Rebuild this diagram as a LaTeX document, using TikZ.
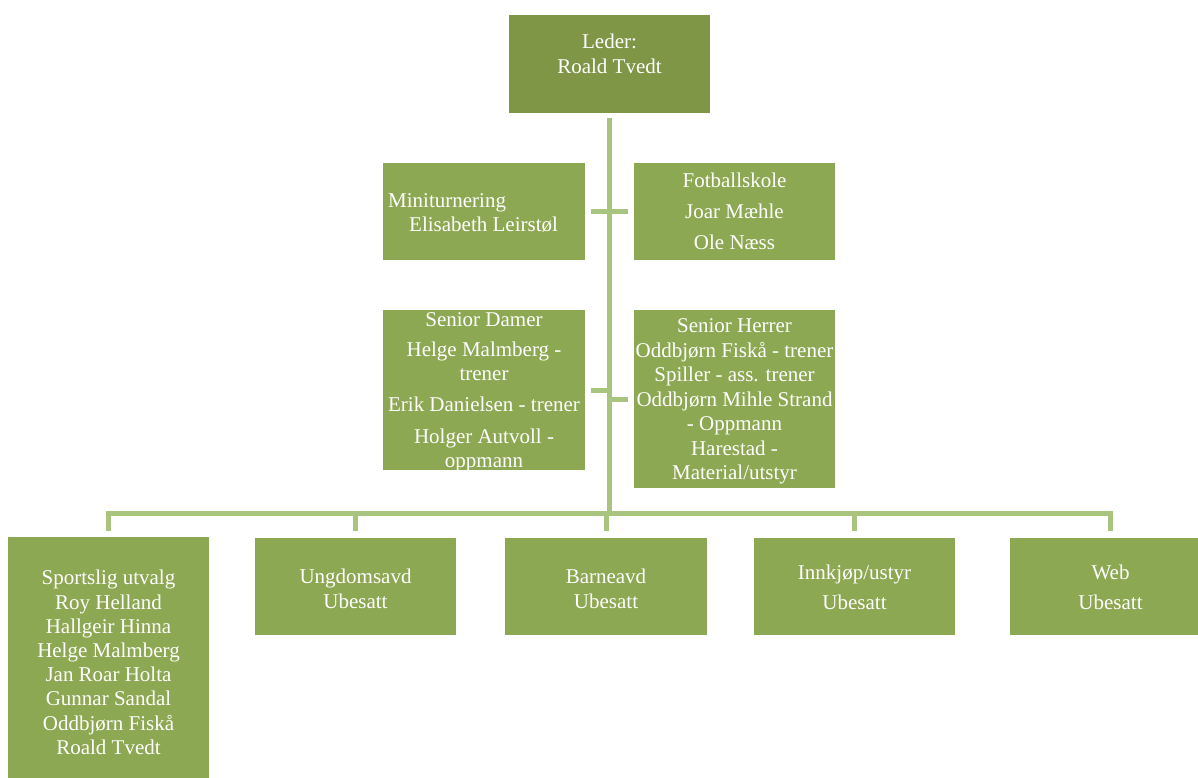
\documentclass[tikz,border=0pt]{standalone}
\usepackage{fontspec}
\setmainfont{Liberation Serif}
\usetikzlibrary{positioning}
\definecolor{boxgreen}{RGB}{141,168,82}
\definecolor{topgreen}{RGB}{127,150,71}
\definecolor{linkgreen}{RGB}{169,196,127}
\tikzset{
orgbox/.style={
  rectangle,
  fill=boxgreen,
  inner sep=0pt,
  minimum width=201pt,
  minimum height=97pt
  },
orgtext/.style={
  text=white,
  align=center,
  inner sep=0pt,
  font=\fontsize{21}{24.5}\selectfont
  },
link/.style={
  draw=linkgreen,
  line width=5pt
  }
}

\begin{document}
\begin{tikzpicture}[x=1pt,y=-1pt]
\useasboundingbox (0,0) rectangle (1198,778);
\clip (0,0) rectangle (1198,778);

% boxes
\node[orgbox,fill=topgreen,minimum height=98pt] (leder) at (609.5,64) {};
\node[orgbox,minimum width=202pt] (mini) at (484,211.5) {};
\node[orgbox] (fotball) at (734.5,211.5) {};
\node[orgbox,minimum width=202pt,minimum height=160pt] (damer) at (484,390) {};
\node[orgbox,minimum height=178pt] (herrer) at (734.5,399) {};
\node[orgbox,minimum height=241pt] (sport) at (108.5,657.5) {};
\node[orgbox] (ungdom) at (355.5,586.5) {};
\node[orgbox,minimum width=202pt] (barne) at (606,586.5) {};
\node[orgbox] (innkjop) at (854.5,586.5) {};
\node[orgbox] (web) at (1110.5,586.5) {};

% texts
\node[orgtext] (leder-txt) at (609.5,54) {Leder:\\Roald Tvedt};
\node[orgtext,align=left,anchor=west] (mini-txt) at (388,213)
  {Miniturnering\\\hspace*{21pt}Elisabeth Leirstøl};
\node[orgtext] (fotball-txt) at (734.5,211.5)
  {Fotballskole\\[6.5pt]Joar Mæhle\\[6.5pt]Ole Næss};
\node[orgtext] (damer-txt) at (484,392.5)
  {Senior Damer\\[5pt]Helge Malmberg -\\trener\\[6.5pt]Erik Danielsen - trener\\[7pt]Holger Autvoll -\\oppmann};
\node[orgtext] (herrer-txt) at (734.5,401.5)
  {Senior Herrer\\Oddbjørn Fiskå - trener\\Spiller - ass. trener\\Oddbjørn Mihle Strand\\- Oppmann\\Harestad -\\Material/utstyr};
\node[orgtext,font=\fontsize{21}{24.2}\selectfont] (sport-txt) at (108.5,662.5)
  {Sportslig utvalg\\Roy Helland\\Hallgeir Hinna\\Helge Malmberg\\Jan Roar Holta\\Gunnar Sandal\\Oddbjørn Fiskå\\Roald Tvedt};
\node[orgtext] (ungdom-txt) at (355.5,589) {Ungdomsavd\\Ubesatt};
\node[orgtext] (barne-txt) at (606,589) {Barneavd\\Ubesatt};
\node[orgtext,font=\fontsize{21}{30}\selectfont] (innkjop-txt) at (854.5,587.5) {Innkjøp/ustyr\\Ubesatt};
\node[orgtext,font=\fontsize{21}{30}\selectfont] (web-txt) at (1110.5,587.5) {Web\\Ubesatt};

\begin{scope}
\coordinate (bus) at (609,513);
\coordinate (droprow) at (0,537);
\draw[link,shorten <=5pt] (leder.south -| bus) -- (bus);
\end{scope}

\begin{scope}
\draw[link,shorten <=6pt] (mini.east) -- (mini.east -| bus);
\draw[link,shorten <=6pt] (fotball.west) -- (fotball.west -| bus);
\draw[link,shorten <=6pt] (damer.east) -- (damer.east -| bus);
\draw[link,shorten <=6pt] (herrer.west) -- (herrer.west -| bus);
\end{scope}

\begin{scope}
\foreach \unit in {sport,ungdom,barne,innkjop,web}
  \draw[link,shorten >=6pt] (bus) -| (\unit.north |- droprow);
\end{scope}

\end{tikzpicture}
\end{document}
